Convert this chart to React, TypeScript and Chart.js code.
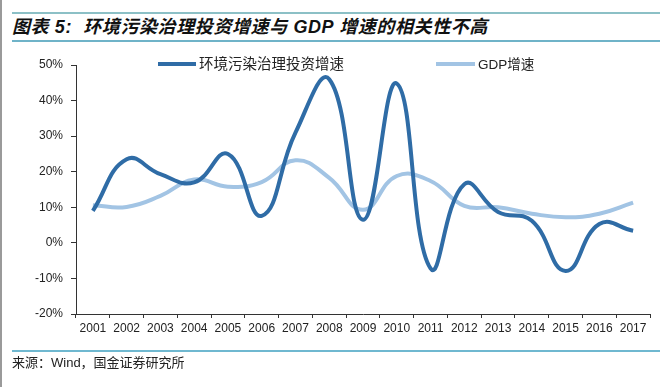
import React, { useEffect, useRef } from "react";
import { Chart, registerables } from "chart.js";

Chart.register(...registerables);

const years = ["2001", "2002", "2003", "2004", "2005", "2006", "2007", "2008", "2009", "2010", "2011", "2012", "2013", "2014", "2015", "2016", "2017"];
const envInvestGrowth = [9, 23.5, 19.3, 17, 25, 7.6, 31, 46, 6.5, 44.8, -7.2, 16.5, 8.7, 6.2, -7.9, 5.3, 3.4];
const gdpGrowth = [10.6, 10.1, 13.2, 17.8, 15.8, 17.1, 23.2, 18.3, 9.3, 18.8, 17.4, 10.4, 10, 8.2, 7.2, 8.2, 11.3];
const seriesNames = ["环境污染治理投资增速", "GDP增速"];
const titleText = "图表 5:  环境污染治理投资增速与 GDP 增速的相关性不高";
const sourceText = "来源：Wind，国金证券研究所";

const DARK = "#2f6ca6";
const LIGHT = "#a2c4e4";

const legendPlugin = {
  id: "inlineLegend",
  afterDatasetsDraw(chart: any) {
    const ctx = chart.ctx;
    const items = [
      { x: 158, w: 38, y: 64, size: 14.5 },
      { x: 436, w: 39, y: 64, size: 13.5 },
    ];
    ctx.save();
    chart.data.datasets.forEach((ds: any, i: number) => {
      const it = items[i];
      ctx.strokeStyle = ds.borderColor;
      ctx.lineWidth = 4;
      ctx.lineCap = "butt";
      ctx.beginPath();
      ctx.moveTo(it.x, it.y);
      ctx.lineTo(it.x + it.w, it.y);
      ctx.stroke();
      ctx.fillStyle = "#222";
      ctx.font = `${it.size}px 'Liberation Sans', 'Noto Sans CJK SC', sans-serif`;
      ctx.textBaseline = "middle";
      ctx.textAlign = "left";
      ctx.fillText(ds.label, it.x + it.w + 3, it.y + 1);
    });
    ctx.restore();
  },
};

export default function App() {
  const ref = useRef<HTMLCanvasElement>(null);
  useEffect(() => {
    document.body.style.margin = "0";
    const chart = new Chart(ref.current as HTMLCanvasElement, {
      type: "line",
      data: {
        labels: years,
        datasets: [
          {
            label: seriesNames[0],
            data: envInvestGrowth,
            borderColor: DARK,
            borderWidth: 4,
            pointRadius: 0,
            tension: 0.45,
            fill: false,
          },
          {
            label: seriesNames[1],
            data: gdpGrowth,
            borderColor: LIGHT,
            borderWidth: 4,
            pointRadius: 0,
            tension: 0.45,
            fill: false,
          },
        ],
      },
      options: {
        responsive: false,
        animation: false,
        layout: { padding: { top: 65, right: 17, bottom: 43, left: 0 } },
        plugins: { legend: { display: false }, tooltip: { enabled: false }, title: { display: false } },
        scales: {
          x: {
            offset: true,
            grid: { offset: true, drawOnChartArea: false, tickLength: 4, color: "#333", lineWidth: 1 },
            border: { display: true, color: "#333", width: 1 },
            ticks: {
              color: "#222",
              padding: 3,
              maxRotation: 0,
              autoSkip: false,
              font: { family: "'Liberation Sans', Arial, sans-serif", size: 12 },
            },
            afterFit: (s: any) => {
              s.height = 30;
            },
          },
          y: {
            min: -20,
            max: 50,
            ticks: {
              stepSize: 10,
              color: "#222",
              padding: 8,
              font: { family: "'Liberation Sans', Arial, sans-serif", size: 12 },
              callback: (v: any) => `${v}%`,
            },
            grid: { drawOnChartArea: false, tickLength: 5, color: "#333", lineWidth: 1 },
            border: { display: true, color: "#333", width: 1 },
            afterFit: (s: any) => {
              s.width = 76;
            },
          },
        },
      },
      plugins: [legendPlugin],
    });
    return () => chart.destroy();
  }, []);

  return (
    <div style={{ position: "absolute", left: 0, top: 0, width: 667, height: 387, background: "#fff", overflow: "hidden" }}>
      <div style={{ position: "absolute", left: 0, top: 0, width: 2, height: 387, background: "#9a9a9a" }} />
      <div style={{ position: "absolute", left: 12, top: 12, width: 648, height: 2, background: "#8cc0c6" }} />
      <div
        style={{
          position: "absolute",
          left: 12,
          top: 15,
          fontFamily: "'Liberation Sans', 'Noto Sans CJK SC', sans-serif",
          fontWeight: "bold",
          fontStyle: "italic",
          fontSize: 18,
          lineHeight: "24px",
          letterSpacing: "0.6px",
          color: "#111",
          whiteSpace: "pre",
        }}
      >
        {titleText}
      </div>
      <div style={{ position: "absolute", left: 12, top: 40, width: 648, height: 2, background: "#6fb3c8" }} />
      <canvas ref={ref} width={667} height={387} style={{ position: "absolute", left: 0, top: 0 }} />
      <div style={{ position: "absolute", left: 12, top: 350, width: 648, height: 2, background: "#6fb8d0" }} />
      <div
        style={{
          position: "absolute",
          left: 12,
          top: 354,
          fontFamily: "'Liberation Sans', 'Noto Sans CJK SC', sans-serif",
          fontSize: 13,
          lineHeight: "18px",
          color: "#222",
          whiteSpace: "nowrap",
        }}
      >
        {sourceText}
      </div>
    </div>
  );
}
